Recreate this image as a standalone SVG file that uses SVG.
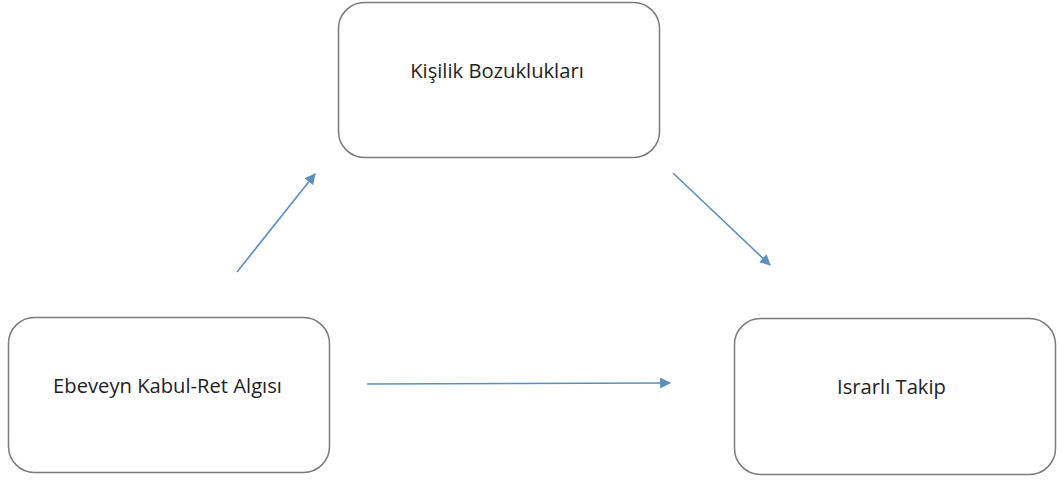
<svg xmlns="http://www.w3.org/2000/svg" width="1062" height="483" viewBox="0 0 1062 483">
<style>
.box{fill:#fff;stroke:#7a7a7a;stroke-width:1.5}
.lbl{font-family:"Open Sans","Noto Sans",sans-serif;font-size:20.2px;fill:#1e1e1e;text-anchor:middle}
.conn{stroke:#5b8fc0;stroke-width:1.6;fill:none}
</style>
<defs>
<marker id="ah" viewBox="0 0 10 10" refX="9" refY="5" markerWidth="11" markerHeight="11" orient="auto" markerUnits="userSpaceOnUse">
<path d="M0,0 L10,5 L0,10 z" fill="#5b8fc0"/>
</marker>
</defs>
<rect width="1062" height="483" fill="#fff"/>
<g id="node-kisilik">
<rect class="box" x="338.5" y="2.5" width="321" height="155" rx="26"/>
<text class="lbl" x="497" y="78">Kişilik Bozuklukları</text>
</g>
<g id="node-ebeveyn">
<rect class="box" x="8.5" y="317.5" width="321" height="155" rx="26"/>
<text class="lbl" x="167.5" y="393">Ebeveyn Kabul-Ret Algısı</text>
</g>
<g id="node-israrli">
<rect class="box" x="734.5" y="318.5" width="321" height="156" rx="26"/>
<text class="lbl" x="891.5" y="394">Israrlı Takip</text>
</g>
<g id="connectors">
<line class="conn" x1="237" y1="272" x2="315" y2="174" marker-end="url(#ah)"/>
<line class="conn" x1="673" y1="173" x2="770" y2="265" marker-end="url(#ah)"/>
<line class="conn" x1="367" y1="384" x2="670" y2="383" marker-end="url(#ah)"/>
</g>
</svg>
